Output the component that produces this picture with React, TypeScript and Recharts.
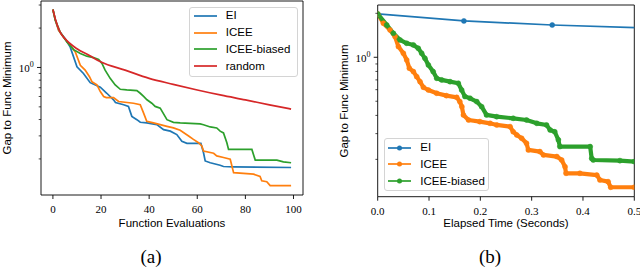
import React from 'react';
import { LineChart, Line, XAxis, YAxis, Legend, ReferenceArea } from 'recharts';

// (a) gap vs number of function evaluations
const eiEvals = [0, 1, 2.4, 5.1, 7.2, 10, 12.7, 15.5, 19.7, 22.4, 25.2, 26, 29.4, 31.4, 32.8, 34.9, 36.3, 39, 43.2, 46, 48.8, 51.5, 53.6, 55.7, 61.5, 62.6, 63.3, 65.4, 69.5, 70.9, 75.1, 99];
const eiGap = [2.77, 2.3, 1.92, 1.66, 1.43, 1.01, 0.9, 0.765, 0.706, 0.635, 0.566, 0.54, 0.519, 0.504, 0.423, 0.399, 0.381, 0.377, 0.366, 0.335, 0.326, 0.307, 0.273, 0.263, 0.263, 0.223, 0.193, 0.187, 0.179, 0.175, 0.174, 0.172];

const iceeEvals = [0, 1, 2.4, 4.4, 7.2, 9.3, 11.4, 13.4, 15.2, 16.2, 18.3, 19.7, 21.1, 22.2, 25.2, 27.3, 33.5, 36.3, 37.7, 39, 41.8, 44.6, 47.4, 50.1, 52.9, 56.4, 58.4, 60.5, 61.9, 62.6, 66.8, 68.1, 70.9, 73.7, 75.1, 83.4, 86.1, 86.8, 88.9, 90.3, 99];
const iceeGap = [2.77, 2.3, 1.92, 1.71, 1.476, 1.314, 1.04, 0.954, 0.85, 0.779, 0.735, 0.654, 0.6, 0.589, 0.589, 0.549, 0.533, 0.519, 0.448, 0.388, 0.377, 0.366, 0.355, 0.345, 0.331, 0.299, 0.282, 0.266, 0.251, 0.23, 0.221, 0.211, 0.205, 0.199, 0.157, 0.153, 0.147, 0.136, 0.134, 0.125, 0.125];

const biasedEvals = [0, 1, 3, 5.8, 8.6, 11.4, 14.1, 16.9, 19, 20.4, 21.7, 23.8, 25.9, 28, 30.7, 34.9, 36.3, 37.7, 39.1, 41.1, 42.5, 44.6, 47.4, 50.1, 52.9, 61.2, 62.6, 65.4, 68.1, 69.5, 70.9, 72.3, 73, 82.7, 84.1, 93.1, 95.8, 99];
const biasedGap = [2.77, 2.3, 1.86, 1.564, 1.368, 1.276, 1.219, 1.19, 1.15, 1.072, 0.954, 0.825, 0.735, 0.681, 0.674, 0.666, 0.635, 0.6, 0.566, 0.533, 0.504, 0.489, 0.399, 0.381, 0.377, 0.37, 0.365, 0.351, 0.345, 0.326, 0.316, 0.266, 0.2365, 0.2365, 0.196, 0.196, 0.19, 0.187];

const randomEvals = [0, 1, 3, 5, 10, 15, 20, 30, 40, 50, 60, 70, 80, 90, 99];
const randomGap = [2.77, 2.35, 1.86, 1.66, 1.39, 1.24, 1.1, 0.954, 0.825, 0.743, 0.673, 0.614, 0.565, 0.518, 0.481];

const evalTicks = [0, 20, 40, 60, 80, 100];

// (b) gap vs elapsed time
const eiTime = [0, 0.168, 0.34, 0.512];
const eiTimeGap = [1.98, 1.774, 1.664, 1.593];

const iceeTime = [0, 0.011, 0.024, 0.0338, 0.0403, 0.05, 0.0565, 0.0617, 0.0695, 0.076, 0.0825, 0.089, 0.0987, 0.115, 0.134, 0.154, 0.16, 0.164, 0.167, 0.177, 0.199, 0.219, 0.232, 0.258, 0.264, 0.271, 0.2805, 0.29, 0.2935, 0.316, 0.323, 0.349, 0.3585, 0.365, 0.367, 0.394, 0.427, 0.433, 0.449, 0.454, 0.5];
const iceeTimeGap = [1.98, 1.71, 1.539, 1.385, 1.183, 1.065, 0.959, 0.841, 0.798, 0.737, 0.681, 0.623, 0.597, 0.567, 0.546, 0.532, 0.497, 0.459, 0.403, 0.372, 0.3625, 0.353, 0.344, 0.335, 0.309, 0.294, 0.279, 0.2575, 0.232, 0.226, 0.2144, 0.209, 0.198, 0.178, 0.1605, 0.1605, 0.156, 0.1445, 0.1407, 0.1288, 0.1288];

const biasedTime = [0, 0.0175, 0.0305, 0.0435, 0.0565, 0.0695, 0.079, 0.0857, 0.092, 0.0987, 0.108, 0.115, 0.1247, 0.141, 0.157, 0.1636, 0.17, 0.18, 0.193, 0.2026, 0.212, 0.232, 0.264, 0.29, 0.31, 0.329, 0.336, 0.345, 0.352, 0.355, 0.414, 0.417, 0.42, 0.472, 0.5];
const biasedTimeGap = [1.98, 1.665, 1.46, 1.314, 1.247, 1.215, 1.152, 1.065, 0.984, 0.886, 0.798, 0.718, 0.7, 0.681, 0.664, 0.597, 0.538, 0.524, 0.497, 0.459, 0.403, 0.392, 0.382, 0.372, 0.353, 0.344, 0.318, 0.309, 0.272, 0.2445, 0.2445, 0.203, 0.198, 0.196, 0.193];

const timeTicks = [0, 0.1, 0.2, 0.3, 0.4, 0.5];
const logTicksA = [0.2, 0.3, 0.4, 0.5, 0.6, 0.7, 0.8, 0.9, 1, 2, 3];
const logTicksB = [0.2, 0.3, 0.4, 0.5, 0.6, 0.7, 0.8, 0.9, 1, 2];

const BLUE = '#1f77b4';
const ORANGE = '#ff7f0e';
const GREEN = '#2ca02c';
const RED = '#d62728';
const SANS = '"Liberation Sans", Arial, sans-serif';
const SERIF = '"Liberation Serif", "Times New Roman", serif';

const zip = (xs: number[], ys: number[]) => xs.map((x, i) => ({ x, y: ys[i] }));

const LogTick = (props: any) => {
  const { x, y, payload } = props;
  const major = payload.value === 1;
  return (
    <g>
      <line x1={x} x2={x - (major ? 4 : 2.3)} y1={y} y2={y} stroke="#000" strokeWidth={major ? 0.9 : 0.7} />
      {major && (
        <text x={x - 7.3} y={y + 4.5} textAnchor="end" fontFamily={SERIF} fontSize={11} fill="#000">
          10<tspan dy={-5} fontSize={8}>0</tspan>
        </text>
      )}
    </g>
  );
};

const xTick = (fmt: (v: number) => string) => (props: any) => {
  const { x, y, payload } = props;
  return (
    <g>
      <line x1={x} x2={x} y1={y} y2={y + 4} stroke="#000" strokeWidth={0.9} />
      <text x={x} y={y + 18} textAnchor="middle" fontFamily={SERIF} fontSize={11} fill="#000">
        {fmt(payload.value)}
      </text>
    </g>
  );
};

const legendBox = (withMarker: boolean) => (props: any) => (
  <div
    style={{
      width: '100%',
      height: '100%',
      boxSizing: 'border-box',
      border: '1px solid #d4d4d4',
      borderRadius: 3,
      background: 'rgba(255,255,255,0.8)',
      paddingTop: 0,
    }}
  >
    {(props.payload || []).map((e: any) => (
      <div key={e.value} style={{ display: 'flex', alignItems: 'center', height: 16.8 }}>
        <svg width={23} height={8} style={{ marginLeft: 3.6, display: 'block' }}>
          <line x1={0} x2={23} y1={4} y2={4} stroke={e.color} strokeWidth={1.7} />
          {withMarker && <circle cx={11.5} cy={4} r={2.5} fill={e.color} />}
        </svg>
        <span style={{ marginLeft: 9.2, fontFamily: SANS, fontSize: 11.5, color: '#000', lineHeight: 1 }}>{e.value}</span>
      </div>
    ))}
  </div>
);

export default function App() {
  return (
    <div style={{ position: 'absolute', left: 0, top: 0, width: 640, height: 277, background: '#fff' }}>
      <div style={{ position: 'absolute', left: 0, top: 0 }}>
        <LineChart width={320} height={277} margin={{ top: 1, right: 17, bottom: 81, left: 40 }}>
          <XAxis
            type="number"
            dataKey="x"
            domain={[-4.95, 103.95]}
            ticks={evalTicks}
            interval={0}
            allowDataOverflow
            height={1}
            tickSize={0}
            tickMargin={0}
            tickLine={false}
            axisLine={false}
            tick={xTick((v) => String(v))}
          />
          <YAxis
            type="number"
            scale="log"
            domain={[0.106, 3.22]}
            ticks={logTicksA}
            interval={0}
            allowDataOverflow
            width={1}
            tickSize={0}
            tickMargin={0}
            tickLine={false}
            axisLine={false}
            tick={<LogTick />}
          />
          <ReferenceArea x1={-4.95} x2={103.95} y1={0.106} y2={3.22} ifOverflow="visible" fill="#fff" fillOpacity={0} stroke="#000" strokeWidth={0.9} strokeOpacity={1} />
          <Line data={zip(eiEvals, eiGap)} dataKey="y" name="EI" stroke={BLUE} strokeWidth={1.7} dot={false} isAnimationActive={false} />
          <Line data={zip(iceeEvals, iceeGap)} dataKey="y" name="ICEE" stroke={ORANGE} strokeWidth={1.7} dot={false} isAnimationActive={false} />
          <Line data={zip(biasedEvals, biasedGap)} dataKey="y" name="ICEE-biased" stroke={GREEN} strokeWidth={1.7} dot={false} isAnimationActive={false} />
          <Line data={zip(randomEvals, randomGap)} dataKey="y" name="random" type="monotone" stroke={RED} strokeWidth={1.7} dot={false} isAnimationActive={false} />
          <Legend
            layout="vertical"
            align="center"
            verticalAlign="middle"
            wrapperStyle={{ left: 189, top: 6.5, width: 108.5, height: 70, margin: 0 }}
            content={legendBox(false)}
          />
        </LineChart>
      </div>
      <div style={{ position: 'absolute', left: 320, top: 0 }}>
        <LineChart width={320} height={277} margin={{ top: 5, right: 5.7, bottom: 79.3, left: 56.7 }}>
          <XAxis
            type="number"
            dataKey="x"
            domain={[0, 0.5]}
            ticks={timeTicks}
            interval={0}
            allowDataOverflow
            height={1}
            tickSize={0}
            tickMargin={0}
            tickLine={false}
            axisLine={false}
            tick={xTick((v) => v.toFixed(1))}
          />
          <YAxis
            type="number"
            scale="log"
            domain={[0.111, 2.28]}
            ticks={logTicksB}
            interval={0}
            allowDataOverflow
            width={1}
            tickSize={0}
            tickMargin={0}
            tickLine={false}
            axisLine={false}
            tick={<LogTick />}
          />
          <ReferenceArea x1={0} x2={0.5} y1={0.111} y2={2.28} ifOverflow="visible" fill="#fff" fillOpacity={0} stroke="#000" strokeWidth={0.9} strokeOpacity={1} />
          <Line data={zip(eiTime, eiTimeGap)} dataKey="y" name="EI" stroke={BLUE} strokeWidth={1.7} dot={{ r: 2.5, fill: BLUE, stroke: BLUE, strokeWidth: 0.5 }} isAnimationActive={false} />
          <Line data={zip(iceeTime, iceeTimeGap)} dataKey="y" name="ICEE" stroke={ORANGE} strokeWidth={4.2} strokeLinejoin="round" dot={{ r: 2.5, fill: ORANGE, stroke: ORANGE, strokeWidth: 0.5 }} isAnimationActive={false} />
          <Line data={zip(biasedTime, biasedTimeGap)} dataKey="y" name="ICEE-biased" stroke={GREEN} strokeWidth={4.2} strokeLinejoin="round" dot={{ r: 2.5, fill: GREEN, stroke: GREEN, strokeWidth: 0.5 }} isAnimationActive={false} />
          <Legend
            layout="vertical"
            align="center"
            verticalAlign="middle"
            wrapperStyle={{ left: 63.5, top: 138.3, width: 105.5, height: 53, margin: 0 }}
            content={legendBox(true)}
          />
        </LineChart>
      </div>
      <svg width={640} height={277} style={{ position: 'absolute', left: 0, top: 0, pointerEvents: 'none' }}>
        <text x={172} y={223} textAnchor="middle" dominantBaseline="central" fontFamily={SANS} fontSize={11.5} fill="#000">
          Function Evaluations
        </text>
        <text x={506} y={223} textAnchor="middle" dominantBaseline="central" fontFamily={SANS} fontSize={11.5} fill="#000">
          Elapsed Time (Seconds)
        </text>
        <text x={7} y={98} transform="rotate(-90 7 98)" textAnchor="middle" dominantBaseline="central" fontFamily={SANS} fontSize={11.5} fill="#000">
          Gap to Func Minimum
        </text>
        <text x={343.5} y={101} transform="rotate(-90 343.5 101)" textAnchor="middle" dominantBaseline="central" fontFamily={SANS} fontSize={11.5} fill="#000">
          Gap to Func Minimum
        </text>
        <text x={151} y={263} textAnchor="middle" fontFamily={SERIF} fontSize={19} fill="#000">
          (a)
        </text>
        <text x={490} y={263} textAnchor="middle" fontFamily={SERIF} fontSize={19} fill="#000">
          (b)
        </text>
      </svg>
    </div>
  );
}
